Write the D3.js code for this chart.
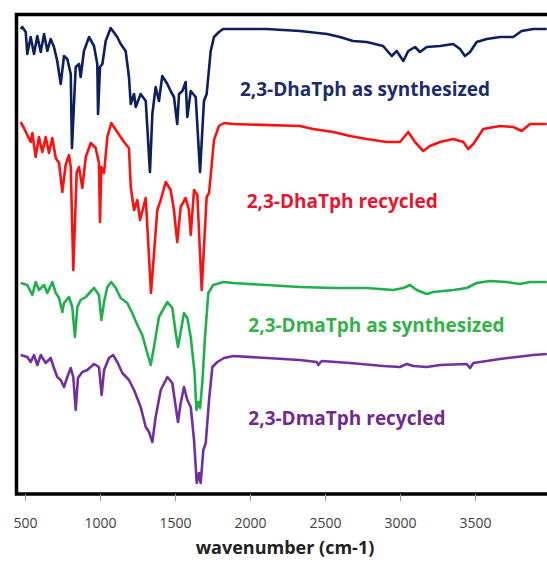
<!DOCTYPE html>
<html>
<head>
<meta charset="utf-8">
<script src="https://cdn.jsdelivr.net/npm/d3@7/dist/d3.min.js"></script>
<style>
  html, body { margin: 0; padding: 0; background: #fff; }
  svg { display: block; }
</style>
</head>
<body>
<svg id="chart" width="547" height="563"></svg>
<script>
// ---------- DATA (wavenumber cm-1, offset transmittance a.u.) ----------
const xTicks = [500, 1000, 1500, 2000, 2500, 3000, 3500];
const xTitle = "wavenumber (cm-1)";

const seriesNames = [
  "2,3-DhaTph as synthesized",
  "2,3-DhaTph recycled",
  "2,3-DmaTph as synthesized",
  "2,3-DmaTph recycled"
];

const dhaSynth = [
  [471,463],[482,465],[505,460],[515,438],[538,455],[560,438],[582,456],[605,440],[627,458],[649,441],
  [671,453],[693,445],[715,431],[738,408],[760,436],[782,433],[805,418],[813,344],[838,425],[860,428],
  [871,415],[893,441],[927,455],[960,446],[982,428],[987,378],[1000,425],[1016,428],[1038,451],[1071,464],
  [1115,455],[1138,448],[1171,441],[1193,415],[1205,388],[1227,398],[1238,385],[1271,398],[1305,391],[1333,320],
  [1349,378],[1371,405],[1393,391],[1415,416],[1449,408],[1471,401],[1493,395],[1515,368],[1527,398],[1549,401],
  [1571,410],[1582,375],[1605,401],[1638,395],[1667,320],[1693,391],[1711,398],[1738,441],[1760,455],[1793,460],
  [1820,463],[1887,463],[2111,463],[2333,461],[2513,458],[2600,455],[2687,451],[2778,450],[2887,446],[2945,436],
  [2978,441],[3022,431],[3055,441],[3100,445],[3133,440],[3178,445],[3267,446],[3355,448],[3400,443],[3433,436],
  [3467,440],[3511,450],[3578,453],[3667,455],[3755,455],[3811,461],[3889,463],[3978,463]
];

const dhaRecyc = [
  [471,370],[493,364],[515,357],[538,350],[549,359],[571,335],[593,355],[615,340],[638,355],[660,339],
  [682,354],[705,334],[727,329],[749,300],[771,327],[793,337],[805,325],[822,222],[845,320],[860,325],
  [882,304],[905,335],[938,349],[971,344],[993,329],[1000,270],[1009,325],[1027,319],[1049,355],[1075,369],
  [1115,360],[1160,350],[1193,344],[1205,305],[1227,282],[1249,292],[1267,272],[1305,294],[1340,199],[1382,282],
  [1405,292],[1438,310],[1471,302],[1493,282],[1515,250],[1538,285],[1571,294],[1593,282],[1605,257],[1627,302],
  [1649,297],[1678,202],[1711,295],[1727,299],[1760,352],[1793,366],[1827,369],[1889,368],[2333,366],[2420,363],
  [2555,360],[2667,356],[2778,353],[2911,350],[3000,350],[3055,360],[3100,350],[3155,341],[3200,346],[3267,350],
  [3355,353],[3422,350],[3455,343],[3489,348],[3555,363],[3667,366],[3755,365],[3811,361],[3867,368],[3978,368]
];

const dmaSynth = [
  [471,209],[515,207],[549,197],[571,210],[593,202],[627,207],[649,199],[682,210],[705,199],[727,194],
  [749,180],[760,189],[793,195],[815,185],[833,155],[849,185],[871,192],[905,195],[960,204],[993,197],
  [1009,172],[1027,190],[1049,205],[1075,210],[1105,204],[1138,194],[1182,189],[1215,179],[1249,167],[1282,157],
  [1315,139],[1338,127],[1360,145],[1393,175],[1449,190],[1482,184],[1505,159],[1520,145],[1538,160],[1560,179],
  [1582,174],[1605,155],[1630,120],[1643,82],[1655,90],[1667,84],[1682,109],[1700,155],[1722,199],[1755,207],
  [1822,210],[1889,209],[2111,207],[2333,205],[2555,204],[2778,204],[2955,202],[3022,204],[3067,207],[3111,202],
  [3178,198],[3222,200],[3355,202],[3445,204],[3511,209],[3600,211],[3711,210],[3800,208],[3867,210],[3978,210]
];

const dmaRecyc = [
  [471,137],[515,135],[538,130],[560,137],[582,127],[605,137],[638,129],[671,134],[693,124],[715,115],
  [738,112],[760,105],[782,115],[805,124],[822,115],[838,82],[853,114],[882,120],[915,122],[960,128],
  [993,125],[1011,97],[1027,122],[1060,134],[1087,137],[1115,130],[1149,119],[1193,112],[1227,102],[1271,85],
  [1305,65],[1327,60],[1349,50],[1371,75],[1405,102],[1449,115],[1482,109],[1505,85],[1520,70],[1538,89],
  [1560,105],[1582,92],[1605,85],[1627,52],[1645,9],[1660,19],[1671,9],[1689,42],[1705,49],[1727,92],
  [1749,125],[1782,130],[1827,134],[1889,136],[2111,134],[2333,132],[2445,130],[2455,127],[2478,131],[2667,129],
  [2889,126],[3000,125],[3045,128],[3089,126],[3178,125],[3267,127],[3445,128],[3467,124],[3489,129],[3667,133],
  [3778,135],[3889,137],[3978,138]
];

const seriesData = [dhaSynth, dhaRecyc, dmaSynth, dmaRecyc];
const colors = ["#0c1f5e", "#ff1010", "#1fb04c", "#7030a0"];
const labelColors = ["#1c2b6b", "#e8152e", "#33b24a", "#6f2a93"];
// label anchor points in data units [wavenumber, value]
const labelPos = [[1933, 396], [1978, 284], [1989, 160], [1989, 67]];

// ---------- CHART ----------
const svg = d3.select("#chart");
const frame = { left: 16.5, top: 14.5, right: 580, bottom: 494 };

const x = d3.scaleLinear().domain([440, 4000]).range([16, 16 + 3560 * 0.15]);
const y = d3.scaleLinear().domain([0, 477]).range([492, 15]);

svg.append("defs").append("clipPath").attr("id", "clip")
  .append("rect")
  .attr("x", frame.left + 1.5).attr("y", frame.top + 1.5)
  .attr("width", frame.right - frame.left).attr("height", frame.bottom - frame.top - 3);

const line = d3.line().x(d => x(d[0])).y(d => y(d[1])).curve(d3.curveLinear);

const plot = svg.append("g").attr("clip-path", "url(#clip)");
seriesData.forEach((s, i) => {
  plot.append("path")
    .datum(s)
    .attr("d", line)
    .attr("fill", "none")
    .attr("stroke", colors[i])
    .attr("stroke-width", 2.6)
    .attr("stroke-linejoin", "round");
});

// labels
seriesNames.forEach((n, i) => {
  svg.append("text")
    .attr("x", x(labelPos[i][0]))
    .attr("y", y(labelPos[i][1]))
    .attr("fill", labelColors[i])
    .attr("font-family", "'Open Sans', sans-serif")
    .attr("font-weight", "bold")
    .attr("font-size", 19)
    .text(n);
});

// frame
svg.append("rect")
  .attr("x", frame.left).attr("y", frame.top)
  .attr("width", frame.right - frame.left).attr("height", frame.bottom - frame.top)
  .attr("fill", "none").attr("stroke", "#000").attr("stroke-width", 3.5);

// x axis
const ax = svg.append("g")
  .attr("transform", `translate(0,${frame.bottom})`)
  .call(d3.axisBottom(x).tickValues(xTicks).tickSize(7).tickFormat(d3.format("d")));
ax.select(".domain").remove();
ax.selectAll(".tick line").attr("stroke", "#999").attr("stroke-width", 1);
ax.selectAll(".tick text")
  .attr("y", 34).attr("dy", 0)
  .attr("fill", "#404040")
  .attr("font-family", "'Open Sans', sans-serif")
  .attr("font-size", 14);

svg.append("text")
  .attr("x", 285).attr("y", 554)
  .attr("text-anchor", "middle")
  .attr("fill", "#222")
  .attr("font-family", "'Open Sans', sans-serif")
  .attr("font-weight", "bold")
  .attr("font-size", 18)
  .text(xTitle);
</script>
</body>
</html>
